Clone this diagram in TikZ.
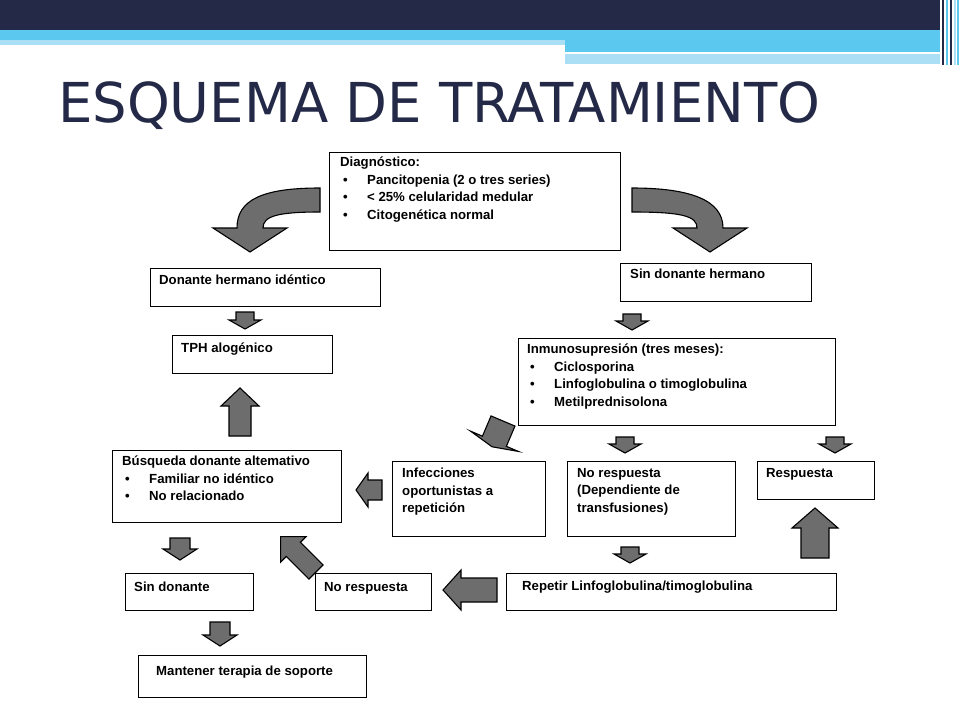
\documentclass[tikz,border=0pt]{standalone}
\usepackage{fontspec}
\setmainfont{Liberation Sans}
\newfontfamily\titlefont{DejaVu Sans Condensed}
\usetikzlibrary{calc}
\definecolor{navy}{HTML}{232947}
\definecolor{sky}{HTML}{5BC8F0}
\definecolor{palesky}{HTML}{AADFF5}
\definecolor{argray}{HTML}{6D6D6D}
\tikzset{
 box/.style={draw=black, line width=1.3pt, fill=white, inner sep=0pt},
 txt/.style={inner sep=0pt, align=left, font=\bfseries\fontsize{13.2}{17.5}\selectfont},
 ar/.style={draw=black, line width=1.1pt, fill=argray, line join=miter},
}
\newcommand\bx[5]{\node[box, minimum width=#4pt-#2pt, minimum height=#5pt-#3pt, anchor=north west] (#1) at (#2,#3) {};}
\newcommand\bl{\makebox[27pt][l]{\hspace{3pt}\textbullet}}
\newcommand\barr[8]{\draw[ar, shift={(#2,#3)}, rotate=#4] (0,-#6/2) -- (#5-#8,-#6/2) -- (#5-#8,-#7/2) -- (#5,0) -- (#5-#8,#7/2) -- (#5-#8,#6/2) -- (0,#6/2) -- cycle;}
\begin{document}
\begin{tikzpicture}[x=1pt,y=-1pt]
\useasboundingbox (0,0) rectangle (960,720);
\fill[white] (0,0) rectangle (960,720);
% banner
\fill[navy] (0,0) rectangle (940,30);
\fill[sky] (0,30) rectangle (940,40);
\fill[palesky] (0,40) rectangle (565,45);
\fill[sky] (565,40) rectangle (940,52);
\fill[palesky] (565,54) rectangle (940,64);
\fill[white] (570,52) rectangle (888,54);
\foreach \xx/\cc in {942/navy,946/sky,950/navy,954/palesky,957/sky}{\fill[\cc] (\xx,0) rectangle ++(2,65);}
\node[inner sep=0pt, anchor=base west, text=navy, xscale=1.1, font=\titlefont\fontsize{55}{60}\selectfont] (title) at (58,122) {ESQUEMA DE TRATAMIENTO};
% boxes
\bx{diag}{329}{152}{620}{250}
\bx{dhi}{150}{268}{380}{306}
\bx{sdh}{620}{263}{811}{301}
\bx{tph}{172}{335}{332}{373}
\bx{inm}{518}{338}{835}{425}
\bx{bus}{112}{450}{341}{522}
\bx{inf}{392}{461}{545}{536}
\bx{nrd}{567}{461}{735}{536}
\bx{res}{757}{461}{874}{499}
\bx{sind}{125}{573}{253}{610}
\bx{nores}{315}{573}{431}{610}
\bx{rep}{506}{573}{836}{610}
\bx{man}{138}{655}{366}{697}
% texts
\node[txt, anchor=north west] (diag-t) at ($(diag.north west)+(11,5)$) {Diagnóstico:\\\bl Pancitopenia (2 o tres series)\\\bl {<} 25\% celularidad medular\\\bl Citogenética normal};
\node[txt, anchor=north west] (dhi-t) at ($(dhi.north west)+(9,7)$) {Donante hermano idéntico};
\node[txt, anchor=north west] (sdh-t) at ($(sdh.north west)+(10,6)$) {Sin donante hermano};
\node[txt, anchor=north west] (tph-t) at ($(tph.north west)+(9,8)$) {TPH alogénico};
\node[txt, anchor=north west] (inm-t) at ($(inm.north west)+(9,6)$) {Inmunosupresión (tres meses):\\\bl Ciclosporina\\\bl Linfoglobulina o timoglobulina\\\bl Metilprednisolona};
\node[txt, anchor=north west] (bus-t) at ($(bus.north west)+(10,6)$) {Búsqueda donante altemativo\\\bl Familiar no idéntico\\\bl No relacionado};
\node[txt, anchor=north west] (inf-t) at ($(inf.north west)+(10,7)$) {Infecciones\\oportunistas a\\repetición};
\node[txt, anchor=north west] (nrd-t) at ($(nrd.north west)+(10,7)$) {No respuesta\\(Dependiente de\\transfusiones)};
\node[txt, anchor=north west] (res-t) at ($(res.north west)+(9,7)$) {Respuesta};
\node[txt, anchor=north west] (sind-t) at ($(sind.north west)+(9,9)$) {Sin donante};
\node[txt, anchor=north west] (nores-t) at ($(nores.north west)+(9,9)$) {No respuesta};
\node[txt, anchor=north west] (rep-t) at ($(rep.north west)+(16,8)$) {Repetir Linfoglobulina/timoglobulina};
\node[txt, anchor=north west] (man-t) at ($(man.north west)+(18,11)$) {Mantener terapia de soporte};
% curved arrows
\draw[ar] (320,188) .. controls (262,188) and (237,200) .. (237,228) -- (213,228) -- (250,252) -- (287,228) -- (263,228) .. controls (263,216) and (278,212) .. (320,212) -- cycle;
\draw[ar] (632,188) .. controls (690,188) and (723,200) .. (723,228) -- (747,228) -- (710,252) -- (673,228) -- (697,228) .. controls (697,216) and (682,212) .. (632,212) -- cycle;
% block arrows
\barr{a1}{245}{312}{-90}{17}{18}{32}{9}
\barr{a2}{632}{314}{-90}{16}{18}{32}{9}
\barr{a3}{240}{436}{90}{48}{22}{38}{18}
\barr{a4}{503}{421}{247}{28}{26}{52}{6}
\barr{a5}{625}{437}{-90}{16}{18}{32}{9}
\barr{a6}{835}{437}{-90}{16}{18}{32}{9}
\barr{a7}{382}{490}{180}{26}{20}{34}{12}
\barr{a8}{815}{558}{90}{50}{28}{46}{20}
\barr{a9}{180}{538}{-90}{22}{20}{34}{11}
\barr{a10}{630}{547}{-90}{16}{18}{32}{9}
\barr{a11}{316}{572}{135}{50}{20}{36}{18}
\barr{a12}{497}{590}{180}{54}{24}{40}{18}
\barr{a13}{220}{622}{-90}{24}{20}{34}{11}
\end{tikzpicture}
\end{document}
